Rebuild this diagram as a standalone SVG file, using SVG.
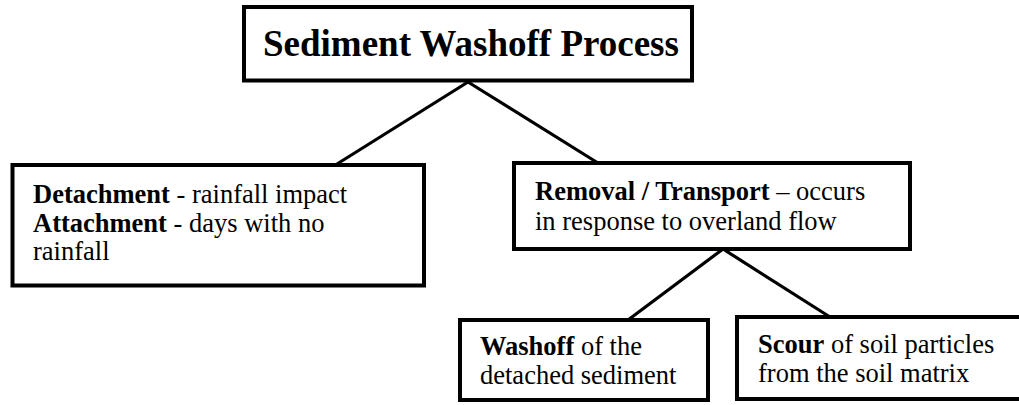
<svg xmlns="http://www.w3.org/2000/svg" width="1019" height="405" viewBox="0 0 1019 405">
<style>
.box{fill:#fff;stroke:#000;stroke-width:4}
.con{stroke:#000;stroke-width:3.2;fill:none}
text{font-family:"Liberation Serif","Times New Roman",serif;font-size:26.5px;fill:#000}
.b{font-weight:bold}
.title{font-size:37px;font-weight:bold}
</style>
<rect width="1019" height="405" fill="#fff"/>
<g id="connectors">
<line class="con" x1="468" y1="82" x2="337" y2="164"/>
<line class="con" x1="468" y1="82" x2="598" y2="163"/>
<line class="con" x1="723" y1="249" x2="628" y2="320"/>
<line class="con" x1="723" y1="249" x2="830" y2="317"/>
</g>
<g id="title">
<rect class="box" x="244" y="7" width="448" height="73.5"/>
<text class="title" x="263" y="56">Sediment Washoff Process</text>
</g>
<g id="detachment">
<rect class="box" x="12.5" y="165" width="411.5" height="120.5"/>
<text x="33" y="203"><tspan class="b">Detachment</tspan> - rainfall impact</text>
<text x="33" y="231.5"><tspan class="b">Attachment</tspan> - days with no</text>
<text x="33" y="260">rainfall</text>
</g>
<g id="removal">
<rect class="box" x="514" y="163" width="396" height="86"/>
<text x="535" y="200"><tspan class="b">Removal / Transport</tspan> – occurs</text>
<text x="535" y="229.5">in response to overland flow</text>
</g>
<g id="washoff">
<rect class="box" x="460" y="320" width="248" height="80"/>
<text x="480" y="355"><tspan class="b">Washoff</tspan> of the</text>
<text x="480" y="383.5">detached sediment</text>
</g>
<g id="scour">
<rect class="box" x="737" y="317" width="290" height="82"/>
<text x="758" y="353"><tspan class="b">Scour</tspan> of soil particles</text>
<text x="758" y="382">from the soil matrix</text>
</g>
</svg>
